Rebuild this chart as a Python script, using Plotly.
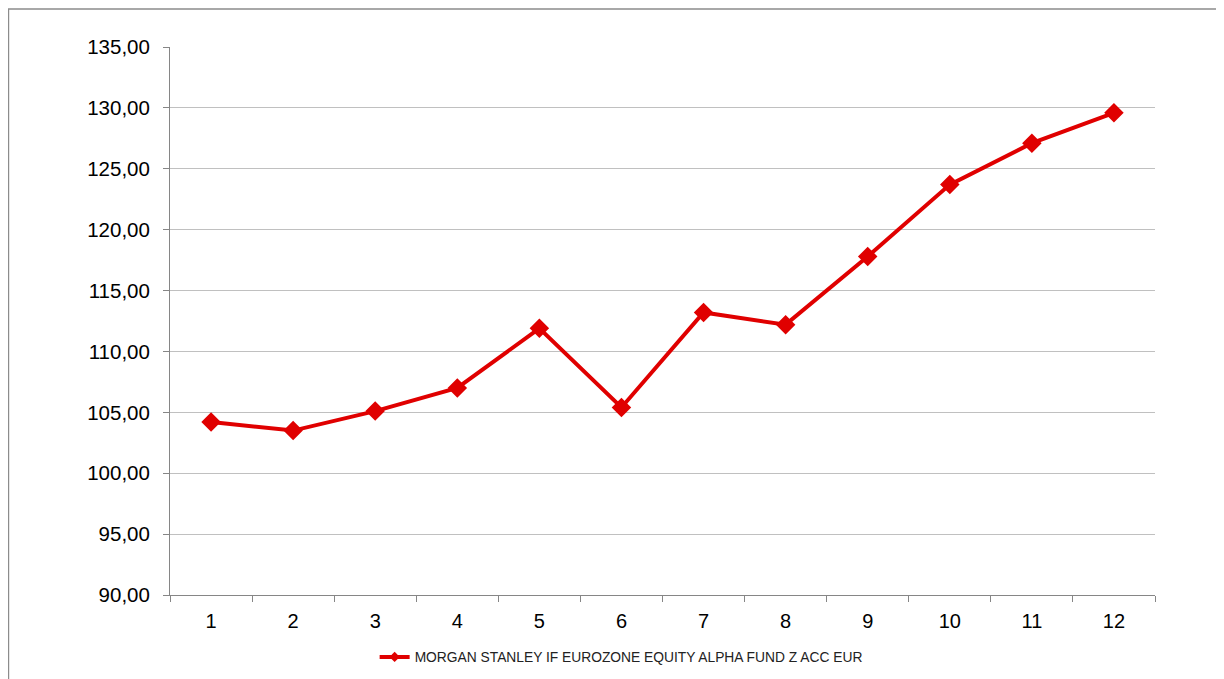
import plotly.graph_objects as go

# ----------------------------
# Data
# ----------------------------
periods = ["1", "2", "3", "4", "5", "6", "7", "8", "9", "10", "11", "12"]
fund_values = [104.2, 103.5, 105.1, 107.0, 111.9, 105.4, 113.2, 112.2, 117.8, 123.7, 127.1, 129.6]
fund_name = "MORGAN STANLEY IF EUROZONE EQUITY ALPHA FUND Z ACC EUR"
y_ticks = [90, 95, 100, 105, 110, 115, 120, 125, 130, 135]

RED = "#e00000"
AXIS = "#868686"
GRID = "#c0c0c0"
FONT = "Liberation Sans, Arial, sans-serif"

fig = go.Figure()
fig.add_trace(go.Scatter(
    x=periods,
    y=fund_values,
    mode="lines+markers",
    name=fund_name,
    showlegend=False,
    line=dict(color=RED, width=4),
    marker=dict(symbol="diamond", size=15, color=RED),
))
# legend-only entry with the small diamond seen in the reference
fig.add_trace(go.Scatter(
    x=[None],
    y=[None],
    mode="lines+markers",
    name=fund_name,
    line=dict(color=RED, width=4),
    marker=dict(symbol="diamond", size=8, color=RED),
))

# page body has an 8px margin, so the margins are trimmed to compensate
fig.update_layout(
    width=1224,
    height=679,
    margin=dict(l=162, r=77, t=39, b=92),
    paper_bgcolor="white",
    plot_bgcolor="white",
    separators=",.",
    font=dict(family=FONT, color="#000000"),
    showlegend=True,
    legend=dict(
        orientation="h",
        x=0.458, xanchor="center",
        y=-0.113, yanchor="middle",
        font=dict(size=13.8, color="#222222", family=FONT),
        bgcolor="rgba(0,0,0,0)",
    ),
)

fig.update_xaxes(
    type="category",
    range=[-0.5, 11.5],
    tickson="boundaries",
    ticks="outside",
    ticklen=6,
    tickcolor=AXIS,
    showline=True,
    linecolor=AXIS,
    linewidth=1,
    showgrid=False,
    tickfont=dict(size=20),
    ticklabelstandoff=8,
)

fig.update_yaxes(
    range=[90, 135],
    tickvals=y_ticks,
    tickformat=".2f",
    ticks="outside",
    ticklen=6,
    tickcolor=AXIS,
    showline=True,
    linecolor=AXIS,
    linewidth=1,
    showgrid=True,
    gridcolor=GRID,
    gridwidth=1,
    zeroline=False,
    tickfont=dict(size=20.5),
    ticklabelstandoff=9,
)

# Outer chart border (as in the spreadsheet export)
fig.add_shape(
    type="rect", xref="paper", yref="paper",
    x0=-0.164, x1=1.1, y0=-0.3, y1=1.0693,
    line=dict(color="#8c8c8c", width=1.5),
    fillcolor="rgba(0,0,0,0)",
    layer="below",
)

fig.write_html("out.html")
